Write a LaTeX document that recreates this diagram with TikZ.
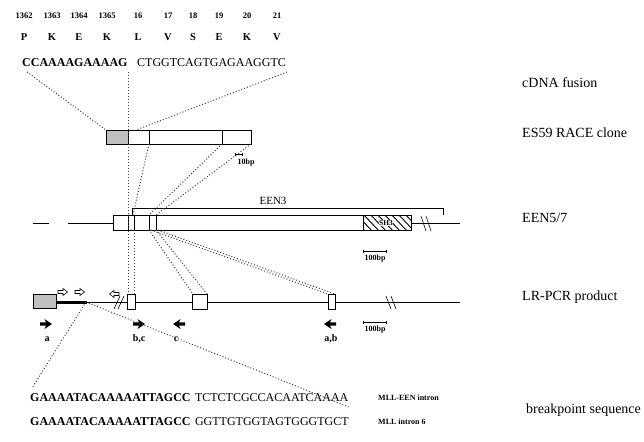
\documentclass[tikz,border=0pt]{standalone}
\usepackage{fontspec}
\setmainfont{Liberation Serif}
\usetikzlibrary{arrows.meta}
\definecolor{boxgray}{gray}{0.75}
\tikzset{
  dotln/.style={line width=1pt, dash pattern=on 1pt off 2pt, black!75},
  boxln/.style={line width=0.8pt},
  thinln/.style={line width=0.6pt},
  lbl/.style={font=\fontsize{14}{16}\selectfont, anchor=west, inner sep=0},
  seqtxt/.style={font=\fontsize{12}{14}\selectfont, anchor=west, inner sep=0},
  numtxt/.style={font=\bfseries\fontsize{8.5}{10}\selectfont, inner sep=0},
  aatxt/.style={font=\bfseries\fontsize{10.5}{12}\selectfont, inner sep=0},
  smalltxt/.style={font=\bfseries\fontsize{8}{9}\selectfont, inner sep=0},
  primertxt/.style={font=\bfseries\fontsize{10}{11}\selectfont, inner sep=0},
  introntxt/.style={font=\bfseries\fontsize{8}{9}\selectfont, anchor=west, inner sep=0},
  rarrow/.pic={\fill (-6,-1.7) -- (0,-1.7) -- (-1.5,-5) -- (6,0) -- (-1.5,5) -- (0,1.7) -- (-6,1.7) -- cycle;},
  openarrow/.pic={\draw[fill=white, line width=0.6pt] (-5,-1.5) -- (0,-1.5) -- (0,-3.5) -- (4.5,0) -- (0,3.5) -- (0,1.5) -- (-5,1.5) -- cycle;},
  scalebar/.pic={\draw[line width=0.7pt] (-11.5,0) -- (11.5,0) (-11.5,-1.5) -- (-11.5,1.5) (11.5,-1.5) -- (11.5,1.5);}
}
\begin{document}
\begin{tikzpicture}[x=1pt,y=-1pt]
\useasboundingbox (0,0) rectangle (644,441);
\fill[white] (0,0) rectangle (644,441);

% ---- codon numbers and amino acids
\foreach \n/\x/\a [count=\i] in {1362/24/P,1363/52/K,1364/79/E,1365/107/K,16/138/L,17/168/V,18/193/S,19/219/E,20/247/K,21/277/V}{
  \node[numtxt] (num\i) at (\x,16) {\n};
  \node[aatxt] (aa\i) at (\x,37) {\a};
}
% ---- cDNA sequence
\node[seqtxt] (cdnaA) at (22,63) {\bfseries CCAAAAGAAAAG};
\node[seqtxt] (cdnaB) at (137,63) {CTGGTCAGTGAGAAGGTC};

% ---- right labels
\node[lbl] (lcdna) at (522,83) {cDNA fusion};
\node[lbl] (lrace) at (522,133) {ES59 RACE clone};
\node[lbl] (leen) at (522,218) {EEN5/7};
\node[lbl] (llr) at (522,297) {LR-PCR product};
\node[lbl] (lbp) at (526,410) {breakpoint sequence};

% ---- RACE clone
\draw[boxln, fill=boxgray] (106,130) rectangle (128,144);
\draw[boxln] (128,130) rectangle (251,144);
\draw[boxln] (149,130) -- (149,144) (222,130) -- (222,144);
\coordinate (r0) at (106,130);
\coordinate (r1t) at (136,130);
\coordinate (r2b) at (149,144);
\coordinate (r3b) at (222,144);
\coordinate (r4b) at (251,144);
\draw[line width=0.7pt] (235,154) -- (242,154) (235,152.5) -- (235,155.5) (242,152.5) -- (242,155.5);
\node[smalltxt] (ten) at (246,163) {10bp};

% ---- EEN5/7
\draw[thinln] (33,223) -- (49,223);
\draw[thinln] (68,223) -- (113,223);
\draw[thinln] (411,223) -- (460,223);
\draw[boxln, fill=white] (113,215) rectangle (411,230);
\begin{scope}
  \clip (363,215) rectangle (411,230);
  \foreach \k in {0,7,...,77}{
    \draw[line width=0.9pt] (348+\k,213) -- (366+\k,232);
  }
\end{scope}
\draw[boxln] (363,215) rectangle (411,230);
\node[font=\bfseries\fontsize{7.5}{8}\selectfont, inner sep=0.6pt, fill=white] (sh3) at (386,223) {SH3};
\draw[boxln] (128,215) -- (128,230) (134,215) -- (134,230) (149,215) -- (149,230) (156,215) -- (156,230);
% break
\draw[thinln] (421,216) -- (426,231) (426,216) -- (431,231);
% EEN3 bracket
\draw[thinln] (132,215) -- (132,208) -- (443,208) -- (443,215);
\node[font=\fontsize{11}{12}\selectfont, inner sep=0] (een3) at (273,201) {EEN3};
\pic at (374.5,251) {scalebar};
\node[smalltxt] (hbp1) at (375,259) {100bp};

% ---- LR-PCR product
\draw[thinln] (86,302) -- (460,302);
\draw[line width=3pt] (56,302) -- (87,302);
\draw[boxln, fill=boxgray] (33,294) rectangle (56,308);
\draw[boxln, fill=white] (127,294) rectangle (135,309);
\draw[boxln, fill=white] (192,294) rectangle (207,309);
\draw[boxln, fill=white] (328,294) rectangle (335,309);
\draw[thinln] (114,309) -- (120,296) (118,309) -- (124,296);
\draw[thinln] (386,296) -- (391,309) (391,296) -- (396,309);
\pic at (63,292) {openarrow};
\pic at (80,292) {openarrow};
\pic[xscale=-1] at (114,294) {openarrow};
\pic at (46,324) {rarrow};
\pic at (139,324) {rarrow};
\pic[xscale=-1] at (179,324) {rarrow};
\pic[xscale=-1] at (330,324) {rarrow};
\node[primertxt] (pa) at (47,339) {a};
\node[primertxt] (pbc) at (139,339) {b,c};
\node[primertxt] (pc) at (176,339) {c};
\node[primertxt] (pab) at (331,339) {a,b};
\pic at (374.5,322) {scalebar};
\node[smalltxt] (hbp2) at (375,330) {100bp};

% ---- breakpoint sequences
\node[seqtxt] (bs1a) at (30,398) {\bfseries GAAAATACAAAAATTAGCC};
\node[seqtxt] (bs1b) at ([xshift=4pt]bs1a.east) {TCTCTCGCCACAATCAAAA};
\node[introntxt] (int1) at (378,398) {MLL-EEN intron};
\node[seqtxt] (bs2a) at (30,422) {\bfseries GAAAATACAAAAATTAGCC};
\node[seqtxt] (bs2b) at ([xshift=4pt]bs2a.east) {GGTTGTGGTAGTGGGTGCT};
\node[introntxt] (int2) at (378,422) {MLL intron 6};

% ---- coordinates for connectors
\coordinate (c1) at (27,72);
\coordinate (c2) at (128,72);
\coordinate (c3) at (287,72);
\coordinate (e2t) at (133,215);
\coordinate (e3t) at (149,215);
\coordinate (e4t) at (156,215);
\coordinate (e2b) at (134,230);
\coordinate (e3b) at (149,230);
\coordinate (e4b) at (156,230);
\coordinate (e5b) at (151,230);
\coordinate (e6b) at (158,230);
\coordinate (l1t) at (128,294);
\coordinate (l2t) at (134,294);
\coordinate (l3t) at (193,294);
\coordinate (l4t) at (207,294);
\coordinate (l5t) at (328,294);
\coordinate (l6t) at (335,294);
\coordinate (lr) at (86,302);
\coordinate (b1) at (32,388);
\coordinate (b2) at ([yshift=-9pt]bs1b.east);

% ---- dotted connectors
\draw[dotln] (c1) -- (r0);
\draw[dotln] (c2) -- (l1t);
\draw[dotln] (c3) -- (r1t);
\draw[dotln] (r2b) -- (e2t);
\draw[dotln] (r3b) -- (e3t);
\draw[dotln] (r4b) -- (e4t);
\draw[dotln] (e2b) -- (l2t);
\draw[dotln] (e3b) -- (l3t);
\draw[dotln] (e4b) -- (l4t);
\draw[dotln] (e5b) -- (l5t);
\draw[dotln] (e6b) -- (l6t);
\draw[dotln] (lr) -- (b1);
\draw[dotln] (lr) -- (b2);
\end{tikzpicture}
\end{document}
